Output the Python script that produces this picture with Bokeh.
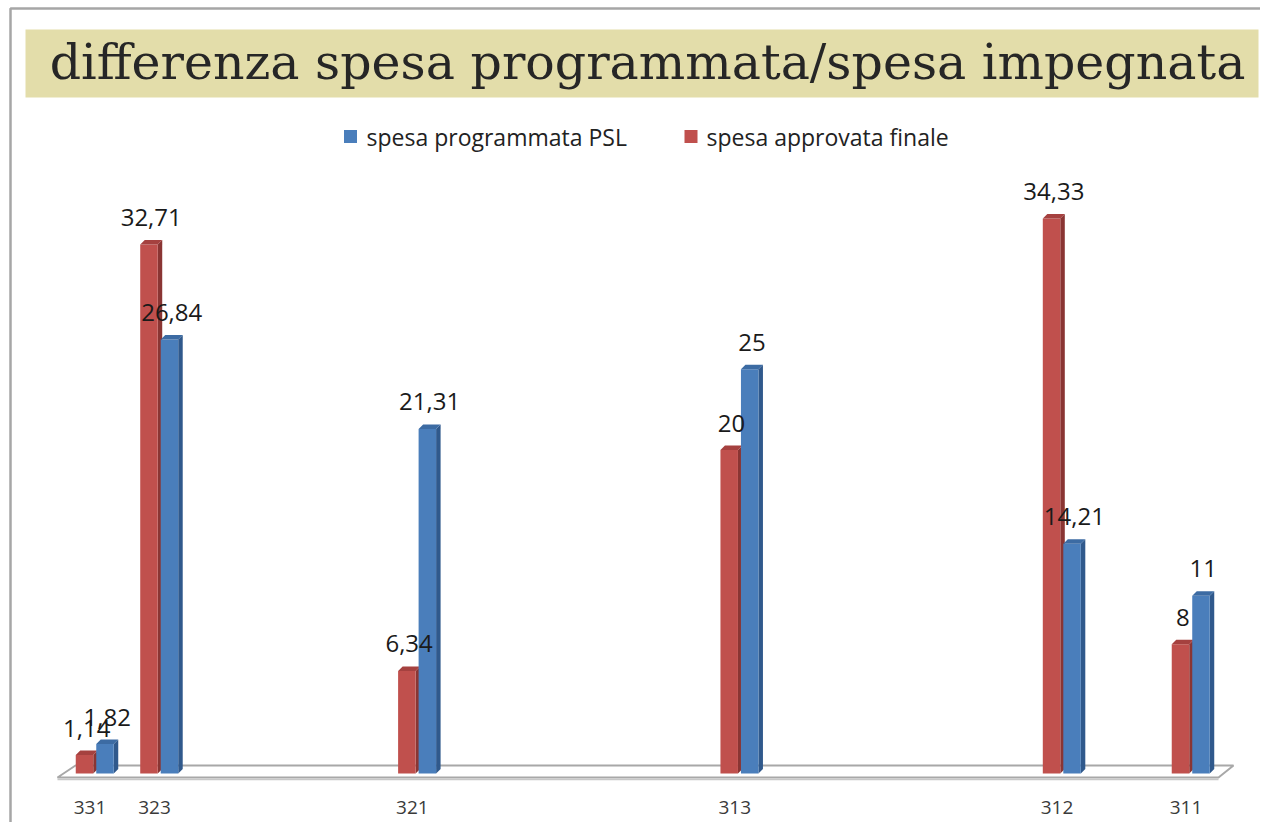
from bokeh.plotting import figure
from bokeh.models import Range1d, ColumnDataSource
from bokeh.core.properties import value
from bokeh.embed import file_html
from bokeh.resources import INLINE

# ---------------- data ----------------
title = "differenza spesa programmata/spesa impegnata"
categories = ["331", "323", "321", "313", "312", "311"]
series_names = ["spesa programmata PSL", "spesa approvata finale"]
programmata = [1.82, 26.84, 21.31, 25, 14.21, 11]     # blue
approvata = [1.14, 32.71, 6.34, 20, 34.33, 8]          # red
label_prog = ["1,82", "26,84", "21,31", "25", "14,21", "11"]
label_appr = ["1,14", "32,71", "6,34", "20", "34,33", "8"]

# ---------------- layout (category slots on a date-like axis) ----------------
slots = [0, 1, 5, 10, 15, 17]

W, H = 1260, 822
U = 64.47      # px per slot
S = 16.17      # px per value unit
X0 = 94.5      # px of slot 0
Y0 = 773.0     # px of value 0


def X(px):
    return (px - X0) / U


def Y(py):
    return (Y0 - py) / S


p = figure(width=W, height=H, output_backend="svg", toolbar_location=None,
           x_range=Range1d(X(0), X(W)), y_range=Range1d(Y(H), Y(0)),
           min_border=0, outline_line_color=None)
p.axis.visible = False
p.grid.visible = False
p.background_fill_color = "white"
p.border_fill_color = "white"

# chart frame (left & top edges visible)
p.line([X(10), X(10), X(1276)], [Y(838), Y(8), Y(8)], line_color="#A6A6A6", line_width=2.5)

# title box
p.quad(left=[X(25)], right=[X(1258)], top=[Y(29)], bottom=[Y(97)],
       fill_color="#E3DDAA", line_color=None)
p.text(x=[X(647)], y=[Y(62)], text=[title], text_font=value("DejaVu Serif"),
       text_font_size="49px", text_color="#262626", text_align="center",
       text_baseline="middle")

# legend
blue_front, blue_side, blue_top = "#4A7EBB", "#30598C", "#3C6BA3"
red_front, red_side, red_top = "#C0504D", "#8A3533", "#A5413F"
p.scatter(x=[X(350), X(690.5)], y=[Y(136), Y(136)], marker="square", size=13,
          fill_color=[blue_front, red_front], line_color=None)
p.text(x=[X(366), X(706)], y=[Y(136), Y(136)], text=series_names,
       text_font=value("Open Sans"), text_font_size="23px", text_color="#222222",
       text_align="left", text_baseline="middle")

# floor (3D base plane)
p.patch([X(57), X(75), X(1233), X(1218)], [Y(777), Y(765), Y(765), Y(777)],
        fill_color="white", line_color="#A8A8A8", line_width=2)
p.line([X(57), X(1218)], [Y(779), Y(779)], line_color="#C8C8C8", line_width=1.5)

# bars
w = 17.5 / U
dx = 4.5 / U
dy = 4.5 / S
offsets = {"red": -10.5 / U, "blue": 10.0 / U}
label_sources = []


def draw_series(vals, labels, off, front, side, top):
    xs = [s + off for s in slots]
    side_xs, side_ys, top_xs, top_ys = [], [], [], []
    for x, v in zip(xs, vals):
        r = x + w / 2
        l = x - w / 2
        side_xs.append([r, r + dx, r + dx, r])
        side_ys.append([0, dy, v + dy, v])
        top_xs.append([l, r, r + dx, l + dx])
        top_ys.append([v, v, v + dy, v + dy])
    p.patches(side_xs, side_ys, fill_color=side, line_color=None)
    p.vbar(x=xs, top=vals, bottom=0, width=w, fill_color=front, line_color=None)
    p.patches(top_xs, top_ys, fill_color=top, line_color=None)
    label_sources.append(ColumnDataSource(dict(x=[x + dx / 2 for x in xs], y=vals, t=labels)))


draw_series(approvata, label_appr, offsets["red"], red_front, red_side, red_top)
draw_series(programmata, label_prog, offsets["blue"], blue_front, blue_side, blue_top)

for src in label_sources:
    p.text(x="x", y="y", text="t", source=src, y_offset=-27,
           text_font=value("Open Sans"), text_font_size="24px", text_color="#1A1A1A",
           text_align="center", text_baseline="middle")

# category labels
p.text(x=[s - 5 / U for s in slots], y=[Y(807)] * len(slots), text=categories,
       text_font=value("Open Sans"), text_font_size="19px", text_color="#3A3A3A",
       text_align="center", text_baseline="middle")

open("out.html", "w").write(file_html(p, INLINE))
